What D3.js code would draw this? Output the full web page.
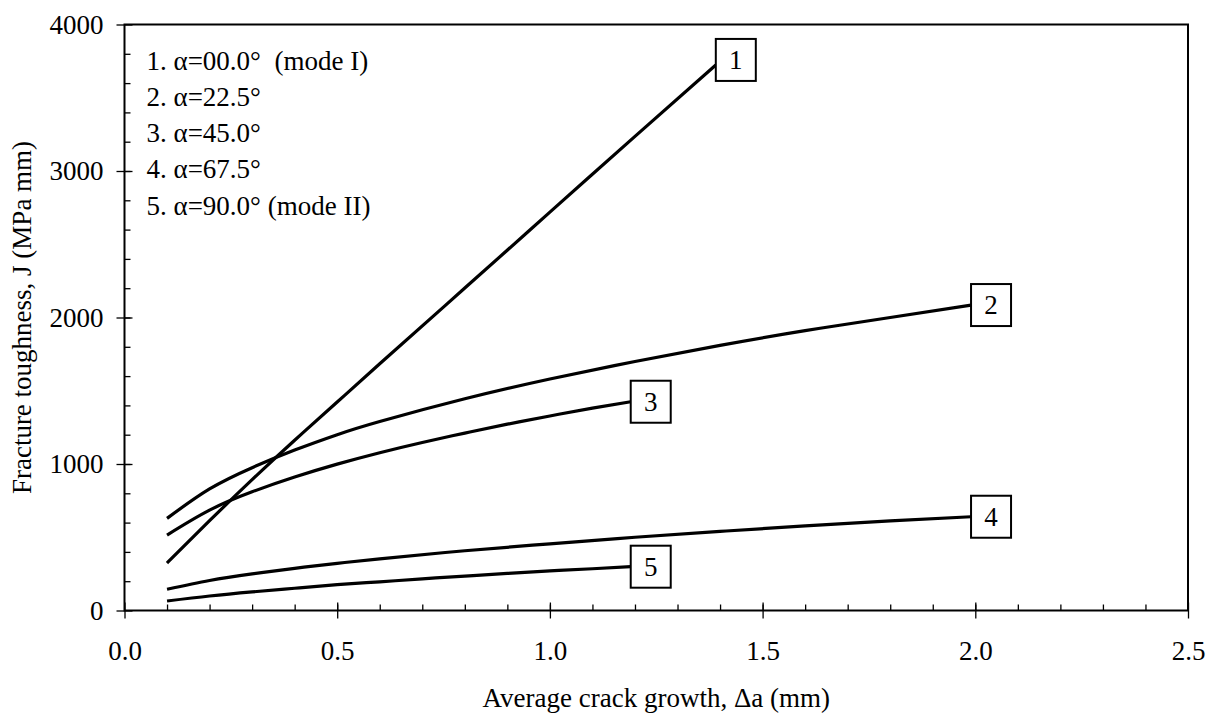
<!DOCTYPE html>
<html>
<head>
<meta charset="utf-8">
<script src="https://cdn.jsdelivr.net/npm/d3@7"></script>
<style>
  body { margin: 0; background: #fff; }
  text { font-family: "Liberation Serif", "Times New Roman", serif; fill: #000; }
</style>
</head>
<body>
<svg width="1212" height="713"></svg>
<script>
// Data
const seriesNames = ["1", "2", "3", "4", "5"];
const x1 = [0.1, 0.2, 0.3, 0.4, 0.5, 0.6, 0.8, 1.0, 1.2, 1.39];
const y1 = [324, 613, 893, 1162, 1423, 1684, 2201, 2719, 3236, 3724];
const x2 = [0.1, 0.2, 0.3, 0.4, 0.5, 0.6, 0.8, 1.0, 1.2, 1.4, 1.6, 1.8, 1.99];
const y2 = [629, 830, 975, 1095, 1200, 1290, 1445, 1580, 1700, 1810, 1910, 2000, 2085];
const x3 = [0.1, 0.2, 0.3, 0.4, 0.5, 0.6, 0.7, 0.8, 0.9, 1.0, 1.1, 1.19];
const y3 = [515, 685, 810, 911, 999, 1077, 1147, 1211, 1272, 1328, 1381, 1425];
const x4 = [0.1, 0.2, 0.3, 0.4, 0.5, 0.6, 0.8, 1.0, 1.2, 1.4, 1.6, 1.8, 1.99];
const y4 = [145, 205, 250, 288, 322, 353, 408, 455, 500, 540, 577, 612, 640];
const x5 = [0.1, 0.2, 0.3, 0.4, 0.5, 0.6, 0.7, 0.8, 0.9, 1.0, 1.1, 1.19];
const y5 = [65, 99, 127, 152, 176, 196, 216, 235, 253, 270, 285, 299];

const legendLines = [
  "1. \u03b1=00.0\u00b0\u00a0 (mode I)",
  "2. \u03b1=22.5\u00b0",
  "3. \u03b1=45.0\u00b0",
  "4. \u03b1=67.5\u00b0",
  "5. \u03b1=90.0\u00b0 (mode II)"
];
const xTicks = [0, 0.5, 1.0, 1.5, 2.0, 2.5];
const yTicks = [0, 1000, 2000, 3000, 4000];

const xs = [x1, x2, x3, x4, x5];
const ys = [y1, y2, y3, y4, y5];
const series = seriesNames.map((name, i) => ({
  name,
  values: xs[i].map((x, j) => ({ x, y: ys[i][j] }))
}));

// Layout
const margin = { top: 24.5, right: 24, bottom: 102.5, left: 124.5 },
      width = 1212 - margin.left - margin.right,
      height = 713 - margin.top - margin.bottom;

const svg = d3.select("svg")
  .append("g")
  .attr("transform", `translate(${margin.left},${margin.top})`);

const x = d3.scaleLinear().domain([0, 2.5]).range([0, width]);
const y = d3.scaleLinear().domain([0, 4000]).range([height, 0]);

const fontSize = "27px";

// frame (top and right plain)
svg.append("rect")
  .attr("width", width)
  .attr("height", height)
  .attr("fill", "none")
  .attr("stroke", "#000")
  .attr("stroke-width", 2);

// minor ticks (inside)
svg.append("g")
  .attr("transform", `translate(0,${height})`)
  .call(d3.axisBottom(x).tickValues(d3.range(1, 25).map(d => d / 10)).tickSize(-6).tickFormat(""))
  .call(g => g.select(".domain").remove())
  .selectAll("line").attr("stroke-width", 1.3);

svg.append("g")
  .call(d3.axisLeft(y).tickValues(d3.range(1, 20).map(d => d * 200)).tickSize(-6).tickFormat(""))
  .call(g => g.select(".domain").remove())
  .selectAll("line").attr("stroke-width", 1.3);

// major ticks crossing the axes
const xAxis = svg.append("g")
  .attr("transform", `translate(0,${height})`)
  .call(d3.axisBottom(x).tickValues(xTicks).tickSize(8).tickPadding(22).tickFormat(d3.format(".1f")));
xAxis.select(".domain").remove();
xAxis.selectAll("line").attr("y1", -8).attr("stroke-width", 1.3);
xAxis.selectAll("text").style("font-size", fontSize).attr("fill", "#000");

const yAxis = svg.append("g")
  .call(d3.axisLeft(y).tickValues(yTicks).tickSize(8).tickPadding(13).tickFormat(d3.format("d")));
yAxis.select(".domain").remove();
yAxis.selectAll("line").attr("x1", 8).attr("stroke-width", 1.3);
yAxis.selectAll("text").style("font-size", fontSize).attr("fill", "#000");

// axis titles
svg.append("text")
  .attr("x", width / 2)
  .attr("y", height + 96)
  .attr("text-anchor", "middle")
  .style("font-size", fontSize)
  .text("Average crack growth, \u0394a (mm)");

svg.append("text")
  .attr("transform", "rotate(-90)")
  .attr("x", -height / 2)
  .attr("y", -margin.left + 31)
  .attr("text-anchor", "middle")
  .style("font-size", fontSize)
  .text("Fracture toughness, J (MPa mm)");

// curves
const line = d3.line()
  .x(d => x(d.x))
  .y(d => y(d.y))
  .curve(d3.curveNatural);

svg.selectAll(".curve")
  .data(series)
  .enter()
  .append("path")
  .attr("class", "curve")
  .attr("d", d => line(d.values))
  .attr("fill", "none")
  .attr("stroke", "#000")
  .attr("stroke-width", 3.2);

// boxed labels at curve ends
const boxW = 40, boxH = 42;
const labels = svg.selectAll(".endlabel")
  .data(series)
  .enter()
  .append("g")
  .attr("class", "endlabel")
  .attr("transform", d => {
    const last = d.values[d.values.length - 1];
    const lift = d.name === "1" ? 5 : 0;
    return `translate(${x(last.x)},${y(last.y) - boxH / 2 - lift})`;
  });

labels.append("rect")
  .attr("width", boxW)
  .attr("height", boxH)
  .attr("fill", "#fff")
  .attr("stroke", "#000")
  .attr("stroke-width", 2);

labels.append("text")
  .attr("x", boxW / 2)
  .attr("y", boxH / 2 + 9)
  .attr("text-anchor", "middle")
  .style("font-size", fontSize)
  .text(d => d.name);

// legend text
svg.selectAll(".legend")
  .data(legendLines)
  .enter()
  .append("text")
  .attr("class", "legend")
  .attr("x", 22)
  .attr("y", (d, i) => 45 + i * 36.3)
  .style("font-size", fontSize)
  .text(d => d);
</script>
</body>
</html>
